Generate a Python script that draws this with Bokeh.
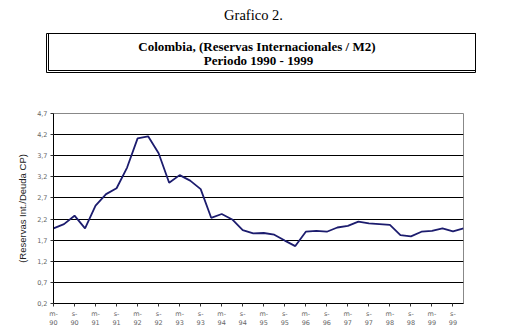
from bokeh.plotting import figure
from bokeh.layouts import column
from bokeh.models import Range1d, FixedTicker, CustomJSTickFormatter
from bokeh.core.properties import value
from bokeh.embed import file_html
from bokeh.resources import INLINE

# Quarterly data, March 1990 .. December 1999
values = [1.98, 2.08, 2.28, 1.98, 2.52, 2.79, 2.93, 3.42, 4.11, 4.16,
          3.76, 3.06, 3.24, 3.11, 2.91, 2.23, 2.32, 2.19, 1.94, 1.86,
          1.87, 1.83, 1.69, 1.56, 1.90, 1.92, 1.90, 2.00, 2.04, 2.14,
          2.10, 2.08, 2.06, 1.82, 1.79, 1.90, 1.92, 1.98, 1.91, 1.98]
x_idx = list(range(len(values)))
tick_labels = ["m-\n90", "s-\n90", "m-\n91", "s-\n91", "m-\n92", "s-\n92",
               "m-\n93", "s-\n93", "m-\n94", "s-\n94", "m-\n95", "s-\n95",
               "m-\n96", "s-\n96", "m-\n97", "s-\n97", "m-\n98", "s-\n98",
               "m-\n99", "s-\n99"]
y_ticks = [0.2, 0.7, 1.2, 1.7, 2.2, 2.7, 3.2, 3.7, 4.2, 4.7]

title_text = "Grafico 2."
box_line1 = "Colombia,  (Reservas Internacionales / M2)"
box_line2 = "Periodo 1990 - 1999"
y_label = "(Reservas Int./Deuda CP)"

# ---------- heading ----------
h = figure(width=506, height=100, output_backend="svg", toolbar_location=None,
           x_range=Range1d(0, 506), y_range=Range1d(100, 0),
           min_border=0, min_border_left=0, min_border_right=0,
           min_border_top=0, min_border_bottom=0)
h.frame_align = False
h.axis.visible = False
h.grid.visible = False
h.outline_line_color = None
h.background_fill_color = "white"
h.border_fill_color = "white"

h.text(x=[253], y=[14], text=[title_text], text_align="center", text_baseline="middle",
       text_font=value("Liberation Serif"), text_font_size="14.5px", text_color="black")
h.quad(left=[46], right=[475], top=[33], bottom=[72],
       fill_color=None, line_color="black", line_width=1)
h.quad(left=[48], right=[475], top=[33], bottom=[70],
       fill_color=None, line_color="black", line_width=1)
h.text(x=[258], y=[46], text=[box_line1], text_align="center", text_baseline="middle",
       text_font=value("Liberation Serif"), text_font_style="bold",
       text_font_size="13px", text_color="black")
h.text(x=[258], y=[60], text=[box_line2], text_align="center", text_baseline="middle",
       text_font=value("Liberation Serif"), text_font_style="bold",
       text_font_size="13px", text_color="black")

# ---------- chart ----------
p = figure(width=506, height=236, output_backend="svg", toolbar_location=None,
           x_range=Range1d(0, 39), y_range=Range1d(0.2, 4.7),
           min_border_left=53, min_border_right=43, min_border_top=13,
           min_border_bottom=33)
p.frame_align = False
p.background_fill_color = "white"
p.border_fill_color = "white"
p.outline_line_color = "#888888"
p.outline_line_width = 1

p.line(x_idx, values, line_color="#1c1c6e", line_width=1.8)

xticks = list(range(0, len(values), 2))
p.xaxis.ticker = FixedTicker(ticks=xticks)
p.xaxis.major_label_overrides = {t: lab for t, lab in zip(xticks, tick_labels)}
p.xaxis.major_label_text_font = "DejaVu Sans"
p.xaxis.major_label_text_font_size = "6.5px"
p.xaxis.major_label_text_color = "#666666"
p.xaxis.major_label_standoff = 3
p.xaxis.major_tick_out = 3
p.xaxis.major_tick_in = 0
p.xaxis.minor_tick_line_color = None
p.xaxis.axis_line_color = "black"
p.xaxis.major_tick_line_color = "#333333"

p.yaxis.ticker = FixedTicker(ticks=y_ticks)
p.yaxis.formatter = CustomJSTickFormatter(code="return tick.toFixed(1).replace('.', ',');")
p.yaxis.major_label_text_font = "DejaVu Sans"
p.yaxis.major_label_text_font_size = "6.5px"
p.yaxis.major_label_text_color = "#666666"
p.yaxis.major_label_standoff = 3
p.yaxis.major_tick_out = 3
p.yaxis.major_tick_in = 0
p.yaxis.minor_tick_line_color = None
p.yaxis.axis_line_color = "black"
p.yaxis.major_tick_line_color = "#333333"
p.yaxis.axis_label = y_label
p.yaxis.axis_label_text_font = "Liberation Sans"
p.yaxis.axis_label_text_font_style = "normal"
p.yaxis.axis_label_text_font_size = "9.5px"
p.yaxis.axis_label_text_color = "#222222"
p.yaxis.axis_label_standoff = 6

p.xgrid.grid_line_color = None
p.ygrid.ticker = FixedTicker(ticks=y_ticks[1:-1])
p.ygrid.grid_line_color = "black"
p.ygrid.grid_line_width = 1

layout = column(h, p, spacing=0)
open("out.html", "w").write(file_html(layout, INLINE))
